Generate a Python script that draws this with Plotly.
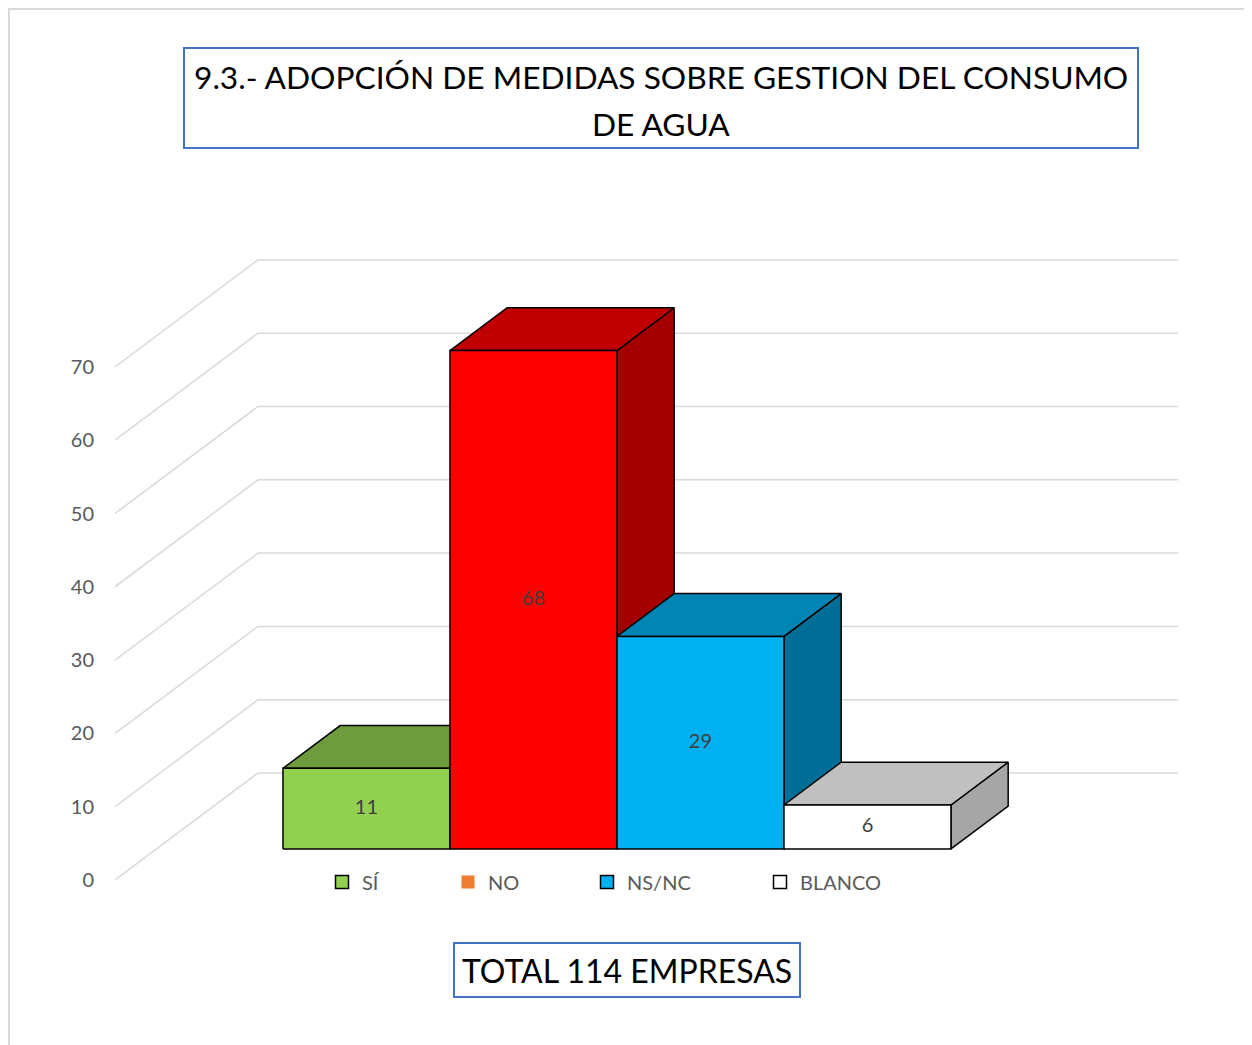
import plotly.graph_objects as go

# ---------------- data ----------------
categories = ["SÍ", "NO", "NS/NC", "BLANCO"]
values = [11, 68, 29, 6]
front_colors = ["#92D050", "#FF0000", "#00B0F0", "#FFFFFF"]
top_colors = ["#6E9C3D", "#C00000", "#0085B5", "#C0C0C0"]
side_colors = ["#5B8232", "#A50000", "#006E96", "#A6A6A6"]
legend_colors = ["#92D050", "#ED7D31", "#00B0F0", "#FFFFFF"]
legend_border = [1.5, 0, 1.5, 1.5]
y_ticks = [0, 10, 20, 30, 40, 50, 60, 70]
title_lines = ["9.3.- ADOPCIÓN DE MEDIDAS SOBRE GESTION DEL CONSUMO", "DE AGUA"]
footer_text = "TOTAL 114 EMPRESAS"

# ---------------- geometry (screen pixel layout) ----------------
W, H = 1252, 1045
OFF = 8                                     # page body margin
PL, PR, PT, PB = 115, 1180, 250, 895        # plot area in screen px
PX_PER_CAT = 167.0
PX_PER_UNIT = 7.33
X0_PX = 325.0                               # screen px of category 0 centre at depth 0
Y0_PX = 880.0                               # screen px of value 0 at depth 0
DEPTH_PX = (143.0, 107.0)                   # full depth offset (right, up)
DX = DEPTH_PX[0] / PX_PER_CAT
DY = DEPTH_PX[1] / PX_PER_UNIT
F0, F1 = 0.29, 0.69                         # bar front/back depth fractions
WALL_L = (PL - X0_PX) / PX_PER_CAT
WALL_R = (1178 - DEPTH_PX[0] - X0_PX) / PX_PER_CAT
LEGEND_SYMBOL_X = [342, 468, 607, 780]      # screen px of legend entries
LEGEND_Y = 882

x_range = [(PL - X0_PX) / PX_PER_CAT, (PR - X0_PX) / PX_PER_CAT]
y_range = [(Y0_PX - PB) / PX_PER_UNIT, (Y0_PX - PT) / PX_PER_UNIT]


def proj(x, v, f):
    return x + f * DX, v + f * DY


def px2paper(px, py):
    return (px - PL) / (PR - PL), (PB - py) / (PB - PT)


fig = go.Figure()

# gridlines (side wall + back wall)
for t in y_ticks:
    pts = [proj(WALL_L, t, 0), proj(WALL_L, t, 1), proj(WALL_R, t, 1)]
    fig.add_trace(go.Scatter(
        x=[p[0] for p in pts], y=[p[1] for p in pts], mode="lines",
        line=dict(color="#D9D9D9", width=1.5), hoverinfo="skip", showlegend=False))

# bars
for i, (cat, v) in enumerate(zip(categories, values)):
    l, r = i - 0.5, i + 0.5
    faces = [
        ([(r, 0, F0), (r, 0, F1), (r, v, F1), (r, v, F0)], side_colors[i]),
        ([(l, v, F0), (l, v, F1), (r, v, F1), (r, v, F0)], top_colors[i]),
        ([(l, 0, F0), (r, 0, F0), (r, v, F0), (l, v, F0)], front_colors[i]),
    ]
    for corners, col in faces:
        pts = [proj(*c) for c in corners]
        pts.append(pts[0])
        fig.add_trace(go.Scatter(
            x=[p[0] for p in pts], y=[p[1] for p in pts], mode="lines",
            fill="toself", fillcolor=col, line=dict(color="#000000", width=1.5),
            hoverinfo="skip", showlegend=False))
    lx, ly = proj(i, v / 2.0, F0)
    fig.add_trace(go.Scatter(
        x=[lx], y=[ly], mode="text", text=[str(v)],
        textfont=dict(family="Lato", size=20, color="#404040"),
        textposition="middle center", hoverinfo="skip", showlegend=False))

# legend entries (one legend per entry so the spacing can follow the original)
legend_layouts = {}
for k, (cat, col, bw) in enumerate(zip(categories, legend_colors, legend_border)):
    lname = "legend" if k == 0 else "legend%d" % (k + 1)
    fig.add_trace(go.Scatter(
        x=[None], y=[None], mode="markers", name=cat, legend=lname,
        marker=dict(symbol="square", size=13, color=col,
                    line=dict(color="#000000", width=bw))))
    lx, ly = px2paper(LEGEND_SYMBOL_X[k] - 20, LEGEND_Y)
    legend_layouts[lname] = dict(
        orientation="h", x=lx, y=ly, xanchor="left", yanchor="middle",
        font=dict(family="Lato", size=20, color="#595959"),
        bgcolor="rgba(0,0,0,0)", itemclick=False, itemdoubleclick=False)

# title box + text, footer box, outer frame
shapes = []
bx0, by0 = px2paper(184, 148)
bx1, by1 = px2paper(1138, 48)
shapes.append(dict(type="rect", xref="paper", yref="paper", x0=bx0, y0=by0, x1=bx1, y1=by1,
                   line=dict(color="#4472C4", width=2), fillcolor="rgba(0,0,0,0)"))
fx0, fy0 = px2paper(454, 997)
fx1, fy1 = px2paper(800, 943)
shapes.append(dict(type="rect", xref="paper", yref="paper", x0=fx0, y0=fy0, x1=fx1, y1=fy1,
                   line=dict(color="#4472C4", width=2), fillcolor="rgba(0,0,0,0)"))
ox0, oy0 = px2paper(OFF + 1, 1100)
ox1, oy1 = px2paper(1300, OFF + 1)
shapes.append(dict(type="rect", xref="paper", yref="paper", x0=ox0, y0=oy0, x1=ox1, y1=oy1,
                   line=dict(color="#D9D9D9", width=2), fillcolor="rgba(0,0,0,0)", layer="below"))

annotations = []
for line, py in zip(title_lines, [77, 124]):
    ax, ay = px2paper(661, py)
    annotations.append(dict(xref="paper", yref="paper", x=ax, y=ay, text=line, showarrow=False,
                            xanchor="center", yanchor="middle",
                            font=dict(family="Lato", size=31.7, color="#000000")))
ax, ay = px2paper(627, 970)
annotations.append(dict(xref="paper", yref="paper", x=ax, y=ay, text=footer_text, showarrow=False,
                        xanchor="center", yanchor="middle",
                        font=dict(family="Lato", size=32, color="#000000")))

fig.update_layout(
    width=W, height=H,
    margin=dict(l=PL - OFF, r=W - (PR - OFF), t=PT - OFF, b=H - (PB - OFF)),
    paper_bgcolor="#FFFFFF", plot_bgcolor="rgba(0,0,0,0)",
    xaxis=dict(range=x_range, visible=False, fixedrange=True),
    yaxis=dict(range=y_range, tickvals=y_ticks, showgrid=False, zeroline=False,
               showline=False, ticks="", ticklabelstandoff=20, fixedrange=True,
               tickfont=dict(family="Lato", size=20, color="#595959")),
    shapes=shapes, annotations=annotations,
    showlegend=True,
    font=dict(family="Lato"),
    **legend_layouts,
)

fig.write_html("out.html")
